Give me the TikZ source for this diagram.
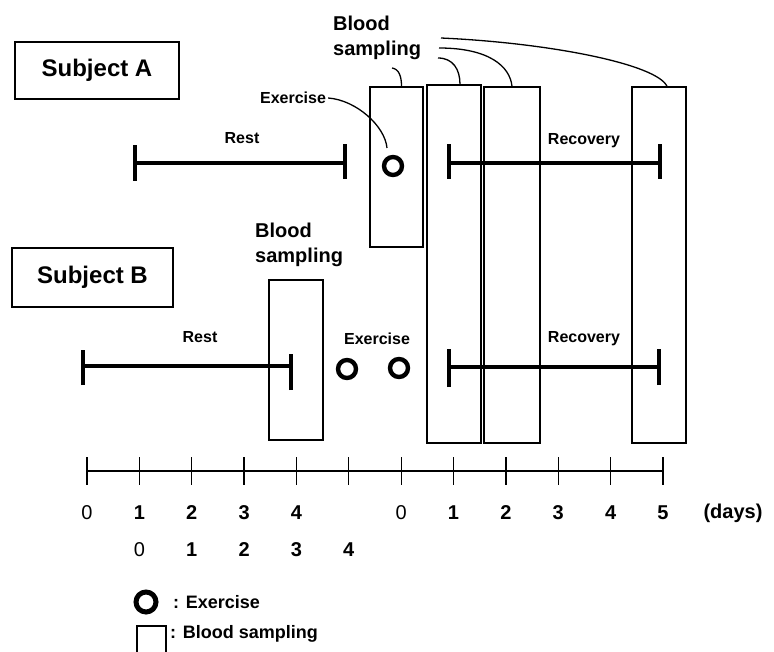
\documentclass[tikz,border=0pt]{standalone}
\usepackage{fontspec}
\setmainfont{Liberation Sans}
\usetikzlibrary{calc}
\begin{document}
\begin{tikzpicture}[x=1pt,y=-1pt,
  lbl/.style={font=\bfseries\fontsize{16}{16}\selectfont, inner sep=0},
  biglbl/.style={font=\bfseries\fontsize{20}{25}\selectfont, inner sep=0, align=left},
  subj/.style={draw, line width=1.2pt, minimum width=164pt, minimum height=57pt, inner sep=0, font=\bfseries\fontsize{24}{24}\selectfont},
  sbox/.style={draw, line width=1.3pt, inner sep=0, minimum width=54pt},
  bar/.style={line width=3.8pt},
  barend/.style={line width=3.8pt},
  exc/.style={circle, draw, line width=4.4pt, minimum size=18pt, inner sep=0},
  lead/.style={line width=1.3pt},
  num/.style={font=\bfseries\fontsize{20}{20}\selectfont, inner sep=0},
  numz/.style={font=\fontsize{20}{20}\selectfont, inner sep=0},
  axis/.style={line width=1.3pt},
  leg/.style={font=\bfseries\fontsize{18}{18}\selectfont, inner sep=0, anchor=west}]
\useasboundingbox (0,0) rectangle (774,652);

% Subject boxes
\node[subj] (subjA) at (97,70.5) {Subject A};
\node[subj, minimum width=161pt, minimum height=59pt] (subjB) at (92.5,277.5) {Subject B};

% Blood sampling boxes
\node[sbox, minimum width=53pt, minimum height=160pt] (A1) at (396.5,167) {};
\node[sbox, minimum height=358pt] (D1) at (454,264) {};
\node[sbox, minimum width=56pt, minimum height=356pt] (D2) at (512,265) {};
\node[sbox, minimum height=356pt] (D5) at (659,265) {};
\node[sbox, minimum height=160pt] (B1) at (296,360) {};

% Labels
\node[biglbl, anchor=north west] (bsA) at (333,16) {Blood\\sampling};
\node[biglbl, anchor=north west] (bsB) at (255,223) {Blood\\sampling};
\node[lbl] (exA) at (293,98) {Exercise};
\node[lbl] (exB) at (377,339) {Exercise};
\node[lbl] (restA) at (242,138) {Rest};
\node[lbl] (restB) at (200,337) {Rest};
\node[lbl] (recA) at (584,141) {Recovery};
\node[lbl] (recB) at (584,339) {Recovery};

% Exercise circles
\node[exc] (cA) at (393,166) {};
\node[exc] (cB1) at (347,369) {};
\node[exc] (cB2) at (399,368) {};

% Leader curves
\draw[lead] ([xshift=2pt]exA.east) .. controls +(28,2) and +(-2,-22) .. ([shift={(-6,-18)}]cA.center);
\coordinate (s1) at (392,68);
\coordinate (s2) at (438,58);
\coordinate (s3) at (439,48);
\coordinate (s4) at (441,38);
\draw[lead] (s1) .. controls +(7,1) and +(0,-10) .. ([xshift=5pt]A1.north);
\draw[lead] (s2) .. controls +(15,0) and +(0,-15) .. ([xshift=6pt]D1.north);
\draw[lead] (s3) .. controls +(50,0) and +(-2,-20) .. ([xshift=0pt]D2.north);
\draw[lead] (s4) .. controls +(110,5) and +(-10,-22) .. ([xshift=8pt]D5.north);

% Bars
\coordinate (rA1) at (135,163); \coordinate (rA2) at (345,163);
\coordinate (vA1) at (449,163); \coordinate (vA2) at (660,163);
\coordinate (rB1) at (83,366);  \coordinate (rB2) at (291,366);
\coordinate (vB1) at (449,367); \coordinate (vB2) at (659,367);
\draw[bar] (rA1) -- (rA2);
\draw[barend] ([yshift=-18pt]rA1) -- ([yshift=18pt]rA1);
\draw[barend] ([yshift=-16pt]rA2) -- ([yshift=19pt]rA2);
\draw[bar] (vA1) -- (vA2);
\draw[barend] ([yshift=-16pt]vA1) -- ([yshift=19pt]vA1);
\draw[barend] ([yshift=-16pt]vA2) -- ([yshift=19pt]vA2);
\draw[bar] (rB1) -- (rB2);
\draw[barend] ([yshift=-19pt]rB1) -- ([yshift=16pt]rB1);
\draw[barend] ([yshift=-24pt]rB2) -- ([yshift=12pt]rB2);
\draw[bar] (vB1) -- (vB2);
\draw[barend] ([yshift=-20pt]vB1) -- ([yshift=18pt]vB1);
\draw[barend] ([yshift=-18pt]vB2) -- ([yshift=18pt]vB2);

% Axis
\coordinate (ax0) at (87,471);
\coordinate (ax1) at (663,471);
\draw[axis] (ax0) -- (ax1);
\foreach \i in {0,...,11} {
  \draw[axis] ($(ax0)+(52.36*\i,-14)$) -- ($(ax0)+(52.36*\i,14)$);
}
% Row 1 labels
\foreach \i/\t in {1/1,2/2,3/3,4/4,7/1,8/2,9/3,10/4,11/5} {
  \node[num] (t\i) at ($(ax0)+(52.36*\i,42)$) {\t};
}
\node[numz] (t0) at ($(ax0)+(0,42)$) {0};
\node[numz] (t6) at ($(ax0)+(52.36*6,42)$) {0};
\node[num] (days) at (733,513) {(days)};
% Row 2 labels
\node[numz] (u1) at ($(ax0)+(52.36*1,79)$) {0};
\foreach \i/\t in {2/1,3/2,4/3,5/4} {
  \node[num] (u\i) at ($(ax0)+(52.36*\i,79)$) {\t};
}

% Legend
\node[exc, line width=5pt, minimum size=20pt] (legc) at (146,602) {};
\node[leg] (legct) at (173,602) {: Exercise};
\coordinate (lq1) at (137,652);
\coordinate (lq2) at (137,626);
\coordinate (lq3) at (166,626);
\coordinate (lq4) at (166,652);
\draw[line width=1.3pt] (lq1) -- (lq2) -- (lq3) -- (lq4);
\node[leg] (legbt) at (170,634) {: Blood sampling};
\end{tikzpicture}
\end{document}
